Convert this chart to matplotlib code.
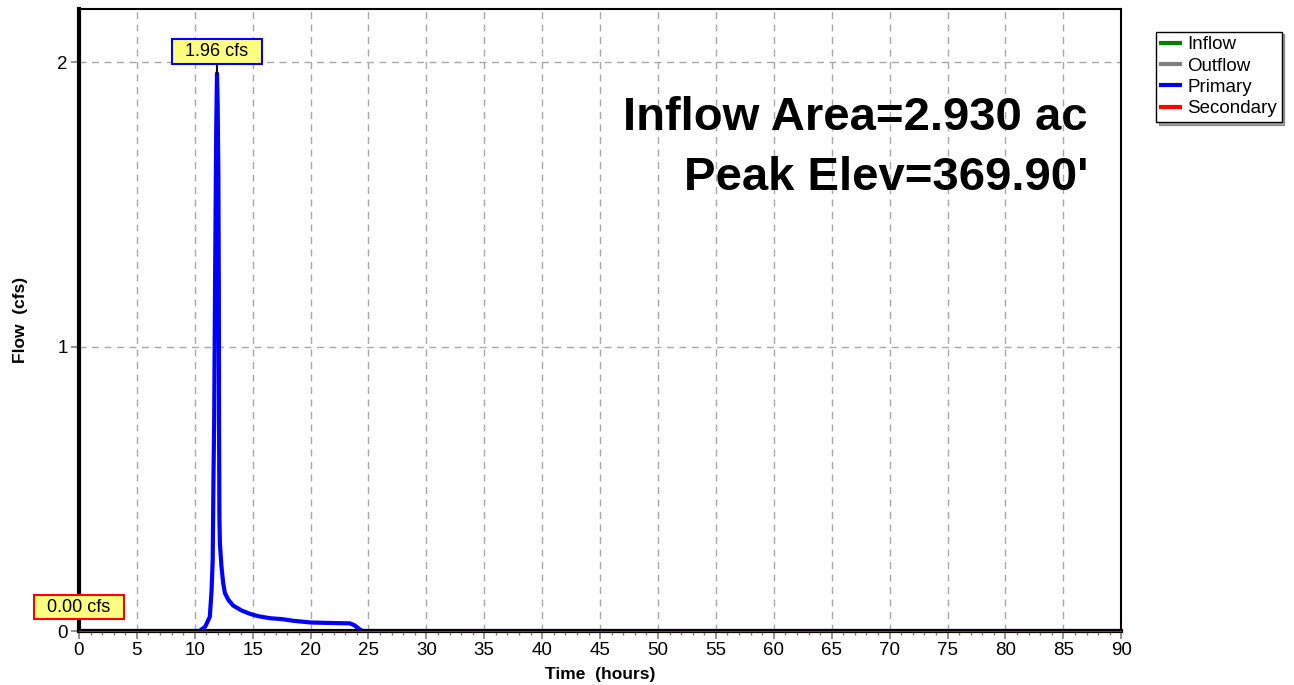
import numpy as np
import matplotlib.pyplot as plt
from matplotlib.ticker import MultipleLocator

plt.rcParams['font.family'] = ['Liberation Sans', 'DejaVu Sans']

# Primary outflow hydrograph (hours, cfs)
time_hr = [0.0, 10.4, 10.9, 11.3, 11.45, 11.55, 11.62, 11.68, 11.75, 11.85,
           11.92, 11.98, 12.04, 12.08, 12.1, 12.13, 12.17, 12.3, 12.45, 12.6,
           12.9, 13.3, 14.05, 14.8, 15.5, 16.5, 17.5, 18.5, 20.0, 21.0,
           22.0, 23.4, 23.8, 24.2, 24.5, 90.0]
primary_cfs = [0.0, 0.0, 0.015, 0.05, 0.14, 0.25, 0.55, 0.75, 1.20, 1.75,
               1.96, 1.85, 1.60, 1.20, 0.70, 0.40, 0.31, 0.23, 0.17, 0.134,
               0.11, 0.09, 0.072, 0.060, 0.052, 0.045, 0.042, 0.036, 0.030, 0.029,
               0.028, 0.027, 0.020, 0.007, 0.0, 0.0]
secondary_cfs = [0.0, 0.0]
secondary_t = [0.0, 90.0]

peak_q = max(primary_cfs)
peak_t = time_hr[primary_cfs.index(peak_q)]

fig = plt.figure(figsize=(12.94, 6.85), dpi=100)
ax = fig.add_axes([0.061, 0.0788, 0.8055, 0.9082])

# primary sits under the spines so its zero tail is hidden by the black axis
ax.plot(time_hr, primary_cfs, color='#0000ff', lw=3.0, zorder=2.2,
        solid_joinstyle='round')
ax.plot(secondary_t, secondary_cfs, color='red', lw=0.8, zorder=3,
        clip_on=False)

ax.set_xlim(0, 90)
ax.set_ylim(0, 2.187)
ax.xaxis.set_major_locator(MultipleLocator(5))
ax.xaxis.set_minor_locator(MultipleLocator(1))
ax.yaxis.set_major_locator(MultipleLocator(1))
ax.grid(True, which='major', color='#a8a8a8', ls=(0, (5, 4)), lw=1.0)
ax.tick_params(which='major', length=6, width=1.2, color='#808080',
               labelsize=13.5, pad=2)
ax.tick_params(which='minor', length=3, width=1.0, color='#808080')

for side in ['left', 'bottom']:
    ax.spines[side].set_linewidth(3)
for side in ['top', 'right']:
    ax.spines[side].set_linewidth(1.5)

ax.set_xlabel('Time  (hours)', fontsize=12.5, fontweight='bold', labelpad=6)
ax.set_ylabel('Flow  (cfs)', fontsize=12.5, fontweight='bold', labelpad=21)

# Peak labels
ax.annotate(f'  {peak_q:.2f} cfs  ', xy=(peak_t, peak_q), xytext=(peak_t, 2.037),
            ha='center', va='center', fontsize=13,
            bbox=dict(boxstyle='square,pad=0.2', fc='#ffff80', ec='#0000ff', lw=1.5),
            arrowprops=dict(arrowstyle='-', color='black', lw=1.5,
                            shrinkA=0, shrinkB=0), zorder=6)
ax.annotate(f'  {max(secondary_cfs):.2f} cfs  ', xy=(0, 0), xytext=(0, 0.084),
            ha='center', va='center', fontsize=13,
            bbox=dict(boxstyle='square,pad=0.2', fc='#ffff80', ec='#ff0000', lw=1.5),
            zorder=6, annotation_clip=False)

ax.text(0.968, 0.805, 'Inflow Area=2.930 ac', transform=ax.transAxes,
        ha='right', va='baseline', fontsize=34, fontweight='bold')
ax.text(0.968, 0.709, "Peak Elev=369.90'", transform=ax.transAxes,
        ha='right', va='baseline', fontsize=34, fontweight='bold')

handles = [plt.Line2D([], [], color=c, lw=3) for c in
           ['green', 'grey', '#0000ff', 'red']]
fig.legend(handles, ['Inflow', 'Outflow', 'Primary', 'Secondary'],
           loc='upper left', bbox_to_anchor=(0.8935, 0.954), fontsize=13.5,
           frameon=True, fancybox=False, shadow=True, edgecolor='black',
           framealpha=1, handlelength=1.0, handletextpad=0.4,
           borderpad=0.25, labelspacing=0.22, borderaxespad=0)

fig.savefig('out.png', dpi=100)
